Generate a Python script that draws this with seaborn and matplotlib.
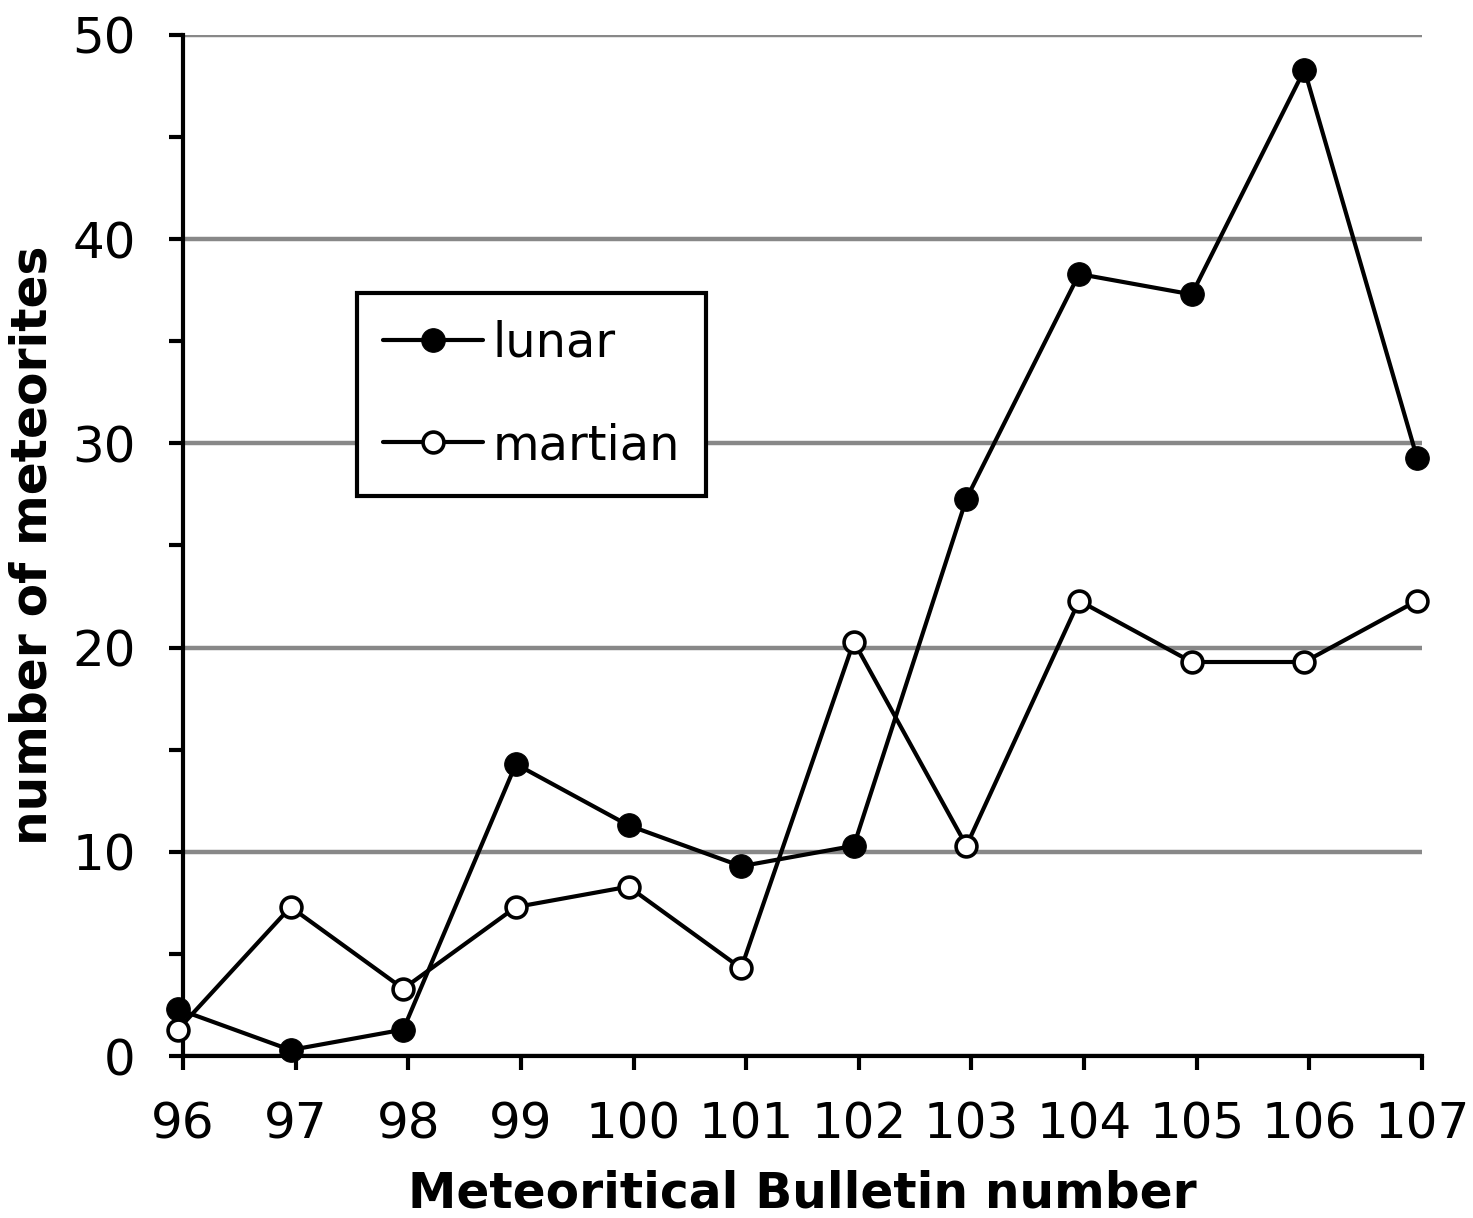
import matplotlib
matplotlib.use("Agg")
import matplotlib.pyplot as plt
import matplotlib.transforms as mtransforms
import seaborn as sns
import pandas as pd

bulletin = [96, 97, 98, 99, 100, 101, 102, 103, 104, 105, 106, 107]
lunar = [2, 0, 1, 14, 11, 9, 10, 27, 38, 37, 48, 29]
martian = [1, 7, 3, 7, 8, 4, 20, 10, 22, 19, 19, 22]
yticks = [0, 10, 20, 30, 40, 50]

sns.set_theme(style="white")
plt.rcParams['font.family'] = ['DejaVu Sans']
plt.rcParams['text.color'] = 'black'
plt.rcParams['axes.labelcolor'] = 'black'

fig = plt.figure(figsize=(14.73, 12.18), dpi=100)
ax = fig.add_axes([0.1242, 0.133, 0.8412, 0.8383])

df_l = pd.DataFrame({"x": bulletin, "y": lunar})
df_m = pd.DataFrame({"x": bulletin, "y": martian})

off = mtransforms.ScaledTranslation(-5 / 100, 6 / 100, fig.dpi_scale_trans)

sns.lineplot(data=df_l, x="x", y="y", ax=ax, color="black", lw=3,
             marker="o", markersize=17, markerfacecolor="black",
             markeredgecolor="black", label="lunar", zorder=4)
sns.lineplot(data=df_m, x="x", y="y", ax=ax, color="black", lw=3,
             marker="o", markersize=15, markerfacecolor="white",
             markeredgecolor="black", markeredgewidth=2.6, label="martian", zorder=5)
for ln in ax.lines:
    ln.set_transform(ln.get_transform() + off)
    ln.set_clip_on(False)

ax.set_xlim(96, 107)
ax.set_ylim(0, 50)
ax.set_xticks(bulletin)
ax.set_xticklabels([str(b) for b in bulletin])
ax.set_yticks(yticks)
ax.set_yticks(range(5, 50, 10), minor=True)
ax.yaxis.grid(True, which="major", color="#888888", lw=3.2)
ax.xaxis.grid(False)
ax.set_axisbelow(True)

for s in ["top", "right"]:
    ax.spines[s].set_visible(False)
for s in ["left", "bottom"]:
    ax.spines[s].set_color("black")
    ax.spines[s].set_linewidth(3)

ax.tick_params(axis="both", which="both", direction="out", length=10, width=3,
               color="black", labelsize=36, labelcolor="black", left=True, bottom=True)
ax.tick_params(axis="x", pad=22)
ax.tick_params(axis="y", pad=24)

ax.set_xlabel("Meteoritical Bulletin number", fontsize=35, fontweight="bold", labelpad=15)
ax.set_ylabel("number of meteorites", fontsize=35, fontweight="bold", labelpad=11)

leg = ax.legend(loc="upper left", bbox_to_anchor=(0.1404, 0.747), fontsize=34.5,
                frameon=True, fancybox=False, edgecolor="black", framealpha=1,
                handlelength=2.08, handletextpad=0.2, borderpad=0.55, labelspacing=1.16,
                borderaxespad=0)
leg.get_frame().set_linewidth(3)
for t in leg.get_texts():
    t.set_color("black")

fig.savefig("out.png", dpi=100)
